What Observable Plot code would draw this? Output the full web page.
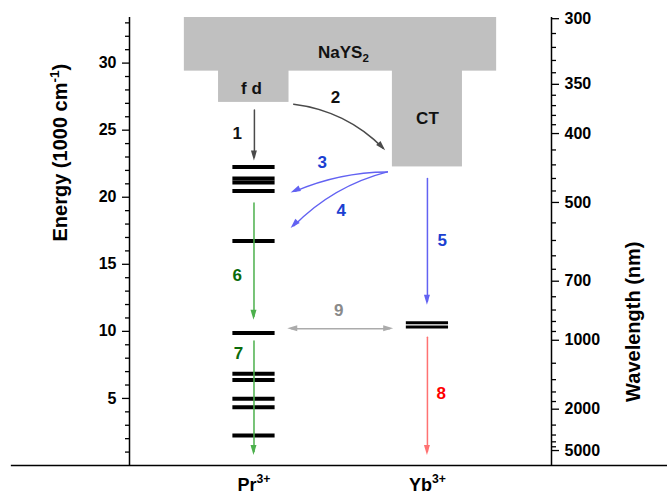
<!DOCTYPE html>
<html>
<head>
<meta charset="utf-8">
<script src="https://cdn.jsdelivr.net/npm/d3@7"></script>
<script src="https://cdn.jsdelivr.net/npm/@observablehq/plot@0.6"></script>
<style>
  body { margin: 0; background: #fff; }
  svg { display: block; }
</style>
</head>
<body>
<div id="chart"></div>
<script>
// ---------- data ----------
const ions = ["Pr³⁺", "Yb³⁺"];
const prLevels = [22.26, 21.39, 21.09, 20.46, 16.74, 9.87, 6.84, 6.38, 4.98, 4.35, 2.24]; // 1000 cm-1
const ybLevels = [10.65, 10.32];
const bandNames = ["NaYS₂", "f d", "CT"];
const bandBottom = [29.4, 27.07, 22.26];
const bandTop = [33.4, 29.4, 29.4];
const energyTicks = [5, 10, 15, 20, 25, 30];
const energyMinor = [1,2,3,4,6,7,8,9,11,12,13,14,16,17,18,19,21,22,23,24,26,27,28,29,31,32,33];
const wavelengthTicks = [300, 350, 400, 500, 700, 1000, 2000, 5000];
const wavelengthMinor = [310,320,330,340,360,370,380,390,420,440,460,480,540,580,620,660,760,820,880,940,1200,1400,1600,1800,2600,3200,3800,4400];
const transLabels = ["1", "2", "3", "4", "5", "6", "7", "8", "9"];
const transFrom = [26.5, 26.94, 21.89, 21.89, 21.4, 19.57, 9.28, 9.57, 10.2];
const transTo   = [22.7, 23.46, 20.32, 17.66, 11.94, 10.82, 0.75, 0.75, 10.2];

// ---------- layout (diagram x units 0..100 between the two axes) ----------
const yTop = 33.4;
const colX = [29.5, 70.6];             // Pr, Yb columns
const halfLen = 5;                     // half length of a level line
const bandX = [[13, 87], [21.1, 37.8], [62.3, 78.9]];
const bandLabelY = [30.82, 28.13, 25.9];
const bandLabelX = [50.7, 28.9, 70.6];
const geom = [
  {x1: 29.6, x2: 29.6, bend: 0,   lx: 25.5, ly: 24.78, c: "#4a4a4a", lc: "#111111"},
  {x1: 38.9, x2: 60.7, bend: 20,  lx: 48.8, ly: 27.46, c: "#4a4a4a", lc: "#111111"},
  {x1: 61.1, x2: 38.3, bend: -12, lx: 45.7, ly: 22.56, c: "#6262f2", lc: "#1b3fd1"},
  {x1: 61.1, x2: 38.3, bend: -16, lx: 50.2, ly: 19.03, c: "#6262f2", lc: "#1b3fd1"},
  {x1: 70.6, x2: 70.6, bend: 0,   lx: 74.1, ly: 16.79, c: "#6262f2", lc: "#1b3fd1"},
  {x1: 29.5, x2: 29.5, bend: 0,   lx: 25.5, ly: 14.18, c: "#4cb04c", lc: "#0b6b0b"},
  {x1: 29.5, x2: 29.5, bend: 0,   lx: 25.8, ly: 8.36,  c: "#4cb04c", lc: "#0b6b0b"},
  {x1: 70.6, x2: 70.6, bend: 0,   lx: 73.9, ly: 5.4,   c: "#ff7272", lc: "#ff0000"},
  {x1: 37.5, x2: 62.6, bend: 0,   lx: 49.6, ly: 11.57, c: "#ababab", lc: "#8a8a8a", both: true}
];
const transitions = transLabels.map((t, i) => ({label: t, y1: transFrom[i], y2: transTo[i], ...geom[i]}));

// right axis: wavelength (nm) drawn on the energy scale (1000 cm-1 = 10000/nm)
const rightLo = 0.914, rightHi = 33.42;
const wlToY = wl => (1e4 / wl - rightLo) * yTop / (rightHi - rightLo);
const yToWl = y => 1e4 / (y * (rightHi - rightLo) / yTop + rightLo);

const bands = bandNames.map((n, i) => ({name: n, x1: bandX[i][0], x2: bandX[i][1], y1: bandBottom[i], y2: i === 0 ? bandTop[i] : bandTop[i] + 0.3, lx: bandLabelX[i], ly: bandLabelY[i]}));

// filled arrow heads, drawn through Plot's scales
const heads = (index, scales) => {
  const g = d3.create("svg:g");
  for (const s of transitions) {
    const a1 = [scales.x(s.x1), scales.y(s.y1)], a2 = [scales.x(s.x2), scales.y(s.y2)];
    const ends = [[a1, a2, s.bend]];
    if (s.both) ends.push([a2, a1, -s.bend]);
    for (const [[ax, ay], [bx, by], bend] of ends) {
      const a = Math.atan2(by - ay, bx - ax) + bend * Math.PI / 180;
      const L = 10, W = 3;
      const cx = bx - L * Math.cos(a), cy = by - L * Math.sin(a);
      const nx = -Math.sin(a) * W, ny = Math.cos(a) * W;
      g.append("path")
        .attr("d", `M${bx},${by}L${cx + nx},${cy + ny}L${cx - nx},${cy - ny}Z`)
        .attr("fill", s.c);
    }
  }
  return g.node();
};

const font = "'Liberation Sans', Arial, sans-serif";

const chart = Plot.plot({
  width: 667,
  height: 499,
  marginLeft: 129,
  marginRight: 116,
  marginTop: 17,
  marginBottom: 34,
  x: {domain: [0, 100], axis: null},
  y: {domain: [0, yTop], axis: null},
  style: {fontFamily: font, fontWeight: "bold", background: "#fff", color: "#000", overflow: "visible"},
  marks: [
    // host / band boxes
    Plot.rect(bands, {x1: "x1", x2: "x2", y1: "y1", y2: "y2", fill: "#c0c0c0"}),
    Plot.text(bands, {x: "lx", y: "ly", text: "name", fontSize: 17, fontWeight: "bold", fill: "#111"}),
    // energy levels
    Plot.ruleY(prLevels, {y: d => d, x1: colX[0] - halfLen, x2: colX[0] + halfLen, strokeWidth: 4, stroke: "#000"}),
    Plot.ruleY(ybLevels, {y: d => d, x1: colX[1] - halfLen, x2: colX[1] + halfLen, strokeWidth: 3, stroke: "#000"}),
    // transitions (shafts)
    ...transitions.map(t => Plot.arrow([t], {x1: "x1", y1: "y1", x2: "x2", y2: "y2", bend: t.bend, headLength: 0, stroke: t.c, strokeWidth: 1.5, insetEnd: 4, insetStart: t.both ? 4 : 0})),
    heads,
    Plot.text(transitions, {x: "lx", y: "ly", text: "label", fill: "lc", fontSize: 17, fontWeight: "bold"}),
    // axes lines
    Plot.ruleX([0, 100], {y1: 0, y2: yTop, stroke: "#000", strokeWidth: 1.5}),
    Plot.ruleY([0], {x1: -28, x2: 128, stroke: "#000", strokeWidth: 1.5}),
    // left axis
    Plot.axisY(energyTicks, {anchor: "left", tickSize: 7, tickPadding: 6, strokeWidth: 1.3, fontSize: 16, fontWeight: "bold", label: null}),
    Plot.axisY(energyMinor, {anchor: "left", tickSize: 4, strokeWidth: 1.3, text: null, label: null}),
    // right axis (wavelength)
    Plot.axisY(wavelengthTicks.map(wlToY), {anchor: "right", tickSize: 7, tickPadding: 6, strokeWidth: 1.3, fontSize: 16, fontWeight: "bold", tickFormat: y => String(Math.round(yToWl(y))), label: null}),
    Plot.axisY(wavelengthMinor.map(wlToY), {anchor: "right", tickSize: 4, strokeWidth: 1.3, text: null, label: null}),
    // axis titles
    Plot.text(["Energy (1000 cm⁻¹)"], {frameAnchor: "left", dx: -69, rotate: -90, fontSize: 20, fontWeight: "bold"}),
    Plot.text(["Wavelength (nm)"], {frameAnchor: "right", dx: 82, rotate: -90, fontSize: 20, fontWeight: "bold"}),
    // ion labels
    Plot.text(ions, {x: (d, i) => colX[i], text: d => d, frameAnchor: "bottom", dy: 25, fontSize: 18, fontWeight: "bold"})
  ]
});
document.getElementById("chart").appendChild(chart);

// render Unicode super/subscript characters as real shifted tspans
const supMap = {"⁰":"0","¹":"1","²":"2","³":"3","⁴":"4","⁵":"5","⁶":"6","⁷":"7","⁸":"8","⁹":"9","⁺":"+","⁻":"-"};
const subMap = {"₀":"0","₁":"1","₂":"2","₃":"3","₄":"4","₅":"5","₆":"6","₇":"7","₈":"8","₉":"9"};
chart.querySelectorAll("text").forEach(t => {
  const s = t.textContent;
  const chars = [...s];
  if (!chars.some(ch => supMap[ch] || subMap[ch])) return;
  const fs = parseFloat(getComputedStyle(t).fontSize) || 16;
  const runs = [];
  for (const ch of chars) {
    const kind = supMap[ch] ? "sup" : subMap[ch] ? "sub" : "n";
    const c = supMap[ch] || subMap[ch] || ch;
    if (runs.length && runs[runs.length - 1].kind === kind) runs[runs.length - 1].text += c;
    else runs.push({kind, text: c});
  }
  while (t.firstChild) t.removeChild(t.firstChild);
  let shift = 0;
  for (const r of runs) {
    const target = r.kind === "sup" ? -0.42 * fs : r.kind === "sub" ? 0.28 * fs : 0;
    const ts = document.createElementNS("http://www.w3.org/2000/svg", "tspan");
    ts.setAttribute("dy", String(target - shift));
    if (r.kind !== "n") ts.setAttribute("font-size", String(0.68 * fs));
    ts.textContent = r.text;
    t.appendChild(ts);
    shift = target;
  }
});
</script>
</body>
</html>
